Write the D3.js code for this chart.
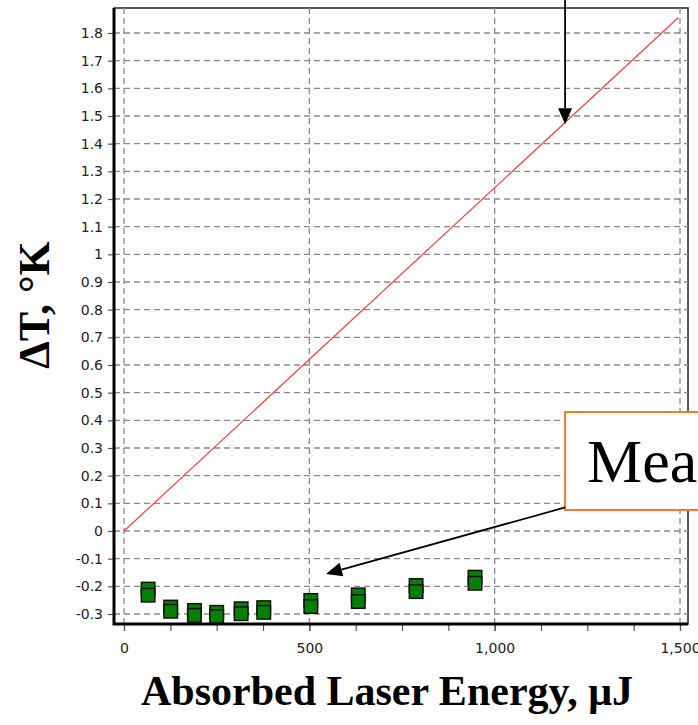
<!DOCTYPE html>
<html>
<head>
<meta charset="utf-8">
<script src="https://cdn.jsdelivr.net/npm/d3@7"></script>
<style>
  body { margin: 0; background: #fff; }
  svg { display: block; }
</style>
</head>
<body>
<div id="chart"></div>
<script>
(function () {
  // energy (uJ) of each measurement
  const energy = [65, 126, 190, 250, 316, 377, 504, 632, 788, 947];
  // two readings per energy, drawn as overlapping squares
  const measuredHigh = [-0.210, -0.275, -0.287, -0.294, -0.281, -0.277, -0.251, -0.231, -0.197, -0.167];
  const measuredLow = [-0.232, -0.290, -0.305, -0.309, -0.299, -0.294, -0.273, -0.255, -0.219, -0.189];
  // predicted temperature rise (red line)
  const predictedEnergy = [0, 1495];
  const predictedDT = [0, 1.855];

  const yTicks = [-0.3, -0.2, -0.1, 0, 0.1, 0.2, 0.3, 0.4, 0.5, 0.6, 0.7, 0.8, 0.9, 1, 1.1, 1.2, 1.3, 1.4, 1.5, 1.6, 1.7, 1.8];
  const yTickLabels = ["-0.3", "-0.2", "-0.1", "0", "0.1", "0.2", "0.3", "0.4", "0.5", "0.6", "0.7", "0.8", "0.9", "1", "1.1", "1.2", "1.3", "1.4", "1.5", "1.6", "1.7", "1.8"];
  const xTicks = [0, 500, 1000, 1500];
  const xTickLabels = ["0", "500", "1,000", "1,500"];
  const xMinorTicks = [0, 125, 250, 375, 500, 625, 750, 875, 1000, 1125, 1250, 1375, 1500];

  const width = 698, height = 725;
  const plot = { left: 114, right: 688, top: 8, bottom: 624 };

  const x = d3.scaleLinear().domain([0, 1500]).range([124, 680]);
  const y = d3.scaleLinear().domain([-0.3, 1.8]).range([614, 33]);

  const svg = d3.select("#chart").append("svg")
    .attr("width", width)
    .attr("height", height);

  // frame
  svg.append("rect")
    .attr("x", plot.left)
    .attr("y", plot.top)
    .attr("width", plot.right - plot.left)
    .attr("height", plot.bottom - plot.top)
    .attr("fill", "#fff")
    .attr("stroke", "#222")
    .attr("stroke-width", 1.5);

  // dashed grid
  const grid = svg.append("g")
    .attr("stroke", "#8a8a8a")
    .attr("stroke-width", 1.3)
    .attr("stroke-dasharray", "6,4");
  grid.selectAll("line.h").data(yTicks).join("line")
    .attr("class", "h")
    .attr("x1", plot.left).attr("x2", plot.right)
    .attr("y1", d => y(d)).attr("y2", d => y(d));
  grid.selectAll("line.v").data(xTicks).join("line")
    .attr("class", "v")
    .attr("y1", plot.top).attr("y2", plot.bottom)
    .attr("x1", d => x(d)).attr("x2", d => x(d));

  // axes
  const yAxis = svg.append("g")
    .attr("transform", "translate(" + plot.left + ",0)")
    .call(d3.axisLeft(y).tickValues(yTicks).tickSize(6).tickPadding(5)
      .tickFormat((d, i) => yTickLabels[i]));

  const xMinor = svg.append("g")
    .attr("transform", "translate(0," + plot.bottom + ")")
    .call(d3.axisBottom(x).tickValues(xMinorTicks).tickSize(7).tickFormat(""));

  const xAxis = svg.append("g")
    .attr("transform", "translate(0," + plot.bottom + ")")
    .call(d3.axisBottom(x).tickValues(xTicks).tickSize(7).tickPadding(12)
      .tickFormat((d, i) => xTickLabels[i]));

  for (const g of [yAxis, xMinor, xAxis]) {
    g.select(".domain").remove();
    g.selectAll(".tick line").attr("stroke", "#555").attr("stroke-width", 1.2);
    g.selectAll("text")
      .attr("fill", "#222")
      .style("font-family", "'DejaVu Sans', sans-serif")
      .style("font-size", "14px");
  }

  // predicted line
  const line = d3.line()
    .x(d => x(d[0]))
    .y(d => y(d[1]));
  svg.append("path")
    .datum(predictedEnergy.map((e, i) => [e, predictedDT[i]]))
    .attr("fill", "none")
    .attr("stroke", "#ff3b3b")
    .attr("stroke-width", 1.2)
    .attr("d", line);

  // measured squares, clipped to the plot
  svg.append("defs").append("clipPath")
    .attr("id", "clip")
    .append("rect")
    .attr("x", plot.left)
    .attr("y", plot.top)
    .attr("width", plot.right - plot.left)
    .attr("height", plot.bottom - plot.top);

  const marks = svg.append("g").attr("clip-path", "url(#clip)");
  const size = 13.5;
  for (const series of [measuredHigh, measuredLow]) {
    marks.append("g").selectAll("rect")
      .data(energy.map((e, i) => [e, series[i]]))
      .join("rect")
      .attr("x", d => x(d[0]) - size / 2)
      .attr("y", d => y(d[1]) - size / 2)
      .attr("width", size)
      .attr("height", size)
      .attr("fill", "#058005")
      .attr("stroke", "#111")
      .attr("stroke-width", 1.5);
  }

  // thick left and bottom axis lines
  svg.append("path")
    .attr("d", "M" + plot.left + "," + plot.top + "V" + plot.bottom + "H" + plot.right)
    .attr("fill", "none")
    .attr("stroke", "#000")
    .attr("stroke-width", 3);

  // annotations
  function arrow(from, to) {
    const x1 = x(from[0]), y1 = y(from[1]), x2 = x(to[0]), y2 = y(to[1]);
    const a = Math.atan2(y2 - y1, x2 - x1);
    const len = 16, half = 7;
    const bx = x2 - len * Math.cos(a), by = y2 - len * Math.sin(a);
    svg.append("line")
      .attr("x1", x1).attr("y1", y1)
      .attr("x2", bx).attr("y2", by)
      .attr("stroke", "#000")
      .attr("stroke-width", 1.8);
    svg.append("path")
      .attr("d", "M" + x2 + "," + y2
        + "L" + (bx - half * Math.sin(a)) + "," + (by + half * Math.cos(a))
        + "L" + (bx + half * Math.sin(a)) + "," + (by - half * Math.cos(a)) + "Z")
      .attr("fill", "#000");
  }

  arrow([1190, 1.93], [1190, 1.47]);

  const box = svg.append("g");
  box.append("rect")
    .attr("x", x(1190))
    .attr("y", y(0.43))
    .attr("width", 160)
    .attr("height", y(0.076) - y(0.43))
    .attr("fill", "#fff")
    .attr("stroke", "#f07a2a")
    .attr("stroke-width", 2);
  box.append("text")
    .attr("x", x(1190) + 22)
    .attr("y", y(0.43) + 70)
    .attr("font-family", "'Liberation Serif', 'Times New Roman', serif")
    .attr("font-size", 62)
    .attr("fill", "#000")
    .text("Measured");

  arrow([1190, 0.085], [545, -0.155]);

  // axis titles
  svg.append("text")
    .attr("x", 387)
    .attr("y", 705)
    .attr("text-anchor", "middle")
    .attr("font-family", "'Liberation Serif', 'Times New Roman', serif")
    .attr("font-weight", "bold")
    .attr("font-size", 42)
    .attr("fill", "#000")
    .text("Absorbed Laser Energy, \u03bcJ");

  svg.append("text")
    .attr("transform", "translate(49,305) rotate(-90)")
    .attr("text-anchor", "middle")
    .attr("font-family", "'Liberation Serif', 'Times New Roman', serif")
    .attr("font-weight", "bold")
    .attr("font-size", 44)
    .attr("fill", "#000")
    .text("\u0394T, \u00b0K");
})();
</script>
</body>
</html>
